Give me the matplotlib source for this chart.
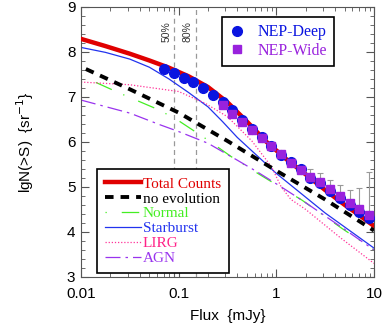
import numpy as np
import matplotlib
matplotlib.use("Agg")
import matplotlib.pyplot as plt
from matplotlib.ticker import MultipleLocator, FixedLocator

# ---- data (log10 flux in mJy, lgN in sr^-1) ----
deep_logS = [-1.15, -1.05, -0.95, -0.85, -0.75, -0.65, -0.55, -0.45, -0.35, -0.25, -0.15,
             -0.05, 0.05, 0.15, 0.25, 0.35, 0.45, 0.55, 0.65, 0.75, 0.85, 0.95]
deep_lgN = [7.62, 7.54, 7.42, 7.33, 7.19, 7.04, 6.88, 6.71, 6.49, 6.29, 6.12,
            5.91, 5.71, 5.55, 5.40, 5.19, 5.08, 4.90, 4.75, 4.60, 4.45, 4.30]

wide_logS = [-0.55, -0.45, -0.35, -0.25, -0.15, -0.05, 0.05, 0.15,
             0.25, 0.35, 0.45, 0.55, 0.65, 0.75, 0.85, 0.95]
wide_lgN = [6.81, 6.63, 6.45, 6.27, 6.09, 5.91, 5.73, 5.54,
            5.38, 5.22, 5.10, 4.95, 4.80, 4.64, 4.50, 4.38]
wide_err_up = [0, 0, 0, 0, 0, 0, 0, 0,
               0, 0.17, 0.20, 0.21, 0.24, 0.29, 0.48, 0.95]

total_logS = [-2.0, -1.75, -1.5, -1.3, -1.1, -0.9, -0.7, -0.5, -0.3, -0.1,
              0.1, 0.3, 0.5, 0.7, 0.85, 1.0]
total_lgN = [8.29, 8.13, 7.96, 7.81, 7.65, 7.46, 7.22, 6.88, 6.45, 6.00,
             5.62, 5.28, 4.93, 4.60, 4.37, 4.13]

noevo_logS = [-1.95, -1.5, -1.0, -0.5, 0.0, 0.5, 1.0]
noevo_lgN = [7.62, 7.17, 6.65, 6.02, 5.36, 4.72, 4.03]

normal_logS = [-2.0, -1.6, -1.2, -1.0, -0.7, -0.46, -0.19, 0.09, 0.26, 0.67, 1.0]
normal_lgN = [7.47, 7.08, 6.71, 6.47, 6.04, 5.67, 5.30, 4.93, 4.71, 4.08, 3.60]

starburst_logS = [-2.0, -1.75, -1.5, -1.3, -1.1, -0.9, -0.7, -0.55, -0.4, -0.25, 0.0, 0.5, 1.0]
starburst_lgN = [8.10, 7.99, 7.84, 7.66, 7.40, 7.10, 6.78, 6.45, 6.10, 5.80, 5.30, 4.42, 3.64]

lirg_logS = [-2.0, -1.5, -1.0, -0.73, -0.5, -0.25, -0.05, 0.05, 0.15, 0.3, 0.65, 1.0]
lirg_lgN = [7.33, 7.27, 7.12, 6.86, 6.56, 6.02, 5.45, 5.00, 4.72, 4.50, 3.88, 3.30]

agn_logS = [-2.0, -1.5, -1.19, -1.0, -0.7, -0.46, -0.2, 0.05, 0.3, 0.67, 1.0]
agn_lgN = [6.93, 6.64, 6.38, 6.23, 5.97, 5.67, 5.34, 5.00, 4.65, 4.10, 3.60]

completeness_flux = [0.09, 0.15]
completeness_labels = ["50%", "80%"]

x_ticks = [0.01, 0.1, 1, 10]
x_ticklabels = ["0.01", "0.1", "1", "10"]

# ---- plot ----
def f(ls):
    return 10 ** np.array(ls)

fig = plt.figure(figsize=(3.82, 3.30), dpi=100)
ax = fig.add_axes([0.212, 0.161, 0.767, 0.818])

sans = "Liberation Sans"
serif = "Liberation Serif"

for xv, lab in zip(completeness_flux, completeness_labels):
    ax.axvline(xv, color="#999999", lw=0.9, ls=(0, (4, 3)), zorder=1)
    ax.text(xv * 0.93, 8.45, lab, rotation=90, ha="right", va="center",
            fontsize=7.5, family=sans, color="#333333")

ax.plot(f(total_logS), total_lgN, color="#e00000", lw=3.2, zorder=3, label="Total Counts")
ax.plot(f(noevo_logS), noevo_lgN, color="black", lw=2.8, ls=(0, (2.2, 1.8)),
        dash_capstyle="butt", zorder=3, label="no evolution")
ax.plot(f(normal_logS), normal_lgN, color="#44ee22", lw=0.9, ls=(0, (1, 12, 14, 10)),
        zorder=2, label="Normal")
ax.plot(f(starburst_logS), starburst_lgN, color="#2233ee", lw=0.9, zorder=2, label="Starburst")
ax.plot(f(lirg_logS), lirg_lgN, color="#ff3399", lw=0.9, ls=(0, (1, 1.5)), zorder=2, label="LIRG")
ax.plot(f(agn_logS), agn_lgN, color="#9933ee", lw=0.9, ls=(0, (12, 4, 2, 4)), zorder=2, label="AGN")

# error bars (upper only) on wide points
wx = f(wide_logS)
ax.errorbar(wx, wide_lgN, yerr=[np.zeros(len(wide_err_up)), wide_err_up], fmt="none",
            ecolor="#999999", elinewidth=0.8, capsize=2, capthick=0.8, zorder=4)

h_deep, = ax.plot(f(deep_logS), deep_lgN, "o", color="#0a14e0", ms=7, mec="#0a14e0", ls="none",
                  zorder=5, label="NEP-Deep")
h_wide, = ax.plot(wx, wide_lgN, "s", color="#9922dd", ms=6.3, mec="#9922dd", ls="none",
                  zorder=6, label="NEP-Wide")

ax.set_xscale("log")
ax.set_xlim(0.01, 10)
ax.set_ylim(3, 9)
ax.xaxis.set_major_locator(FixedLocator(x_ticks))
ax.set_xticklabels(x_ticklabels)
ax.yaxis.set_major_locator(MultipleLocator(1))
ax.yaxis.set_minor_locator(MultipleLocator(0.2))
ax.tick_params(which="both", direction="in", top=True, right=True, color="#555555")
ax.tick_params(which="major", length=6, width=0.8, labelsize=11, pad=4)
ax.tick_params(axis="x", which="major", pad=7)
ax.tick_params(which="minor", length=3, width=0.6)
for lab in ax.get_xticklabels() + ax.get_yticklabels():
    lab.set_family(sans)
for sp in ax.spines.values():
    sp.set_color("#555555")
    sp.set_linewidth(0.8)

ax.set_xlabel("Flux  {mJy}", fontsize=11, family=sans, labelpad=6)
ax.set_ylabel("lgN(>S)  {sr$^{-1}$}", fontsize=11, family=sans, labelpad=22)

# lower-left legend of model curves
lines = ax.get_lines()
model_handles = [l for l in lines if l.get_label() in
                 ("Total Counts", "no evolution", "Normal", "Starburst", "LIRG", "AGN")]
leg1 = ax.legend(handles=model_handles, loc="lower left", bbox_to_anchor=(0.055, 0.015),
                 borderaxespad=0, frameon=True, fancybox=False, edgecolor="black",
                 framealpha=1, prop={"family": serif, "size": 11}, handlelength=2.4,
                 handletextpad=0.1, labelspacing=0.08, borderpad=0.5)
leg1.get_frame().set_linewidth(1.2)
for txt, h in zip(leg1.get_texts(), model_handles):
    txt.set_color(h.get_color() if h.get_label() != "LIRG" else "#ff2288")
ax.add_artist(leg1)

leg2 = ax.legend(handles=[h_deep, h_wide], loc="upper left", bbox_to_anchor=(0.48, 0.963),
                 borderaxespad=0, frameon=True, fancybox=False, edgecolor="black",
                 framealpha=1, prop={"family": serif, "size": 11.5}, handlelength=1.0,
                 handletextpad=0.8, labelspacing=0.15, borderpad=0.45, numpoints=1)
leg2.get_frame().set_linewidth(1.2)
leg2.get_texts()[0].set_color("#0a14e0")
leg2.get_texts()[1].set_color("#9922dd")

fig.savefig("out.png", dpi=100)
